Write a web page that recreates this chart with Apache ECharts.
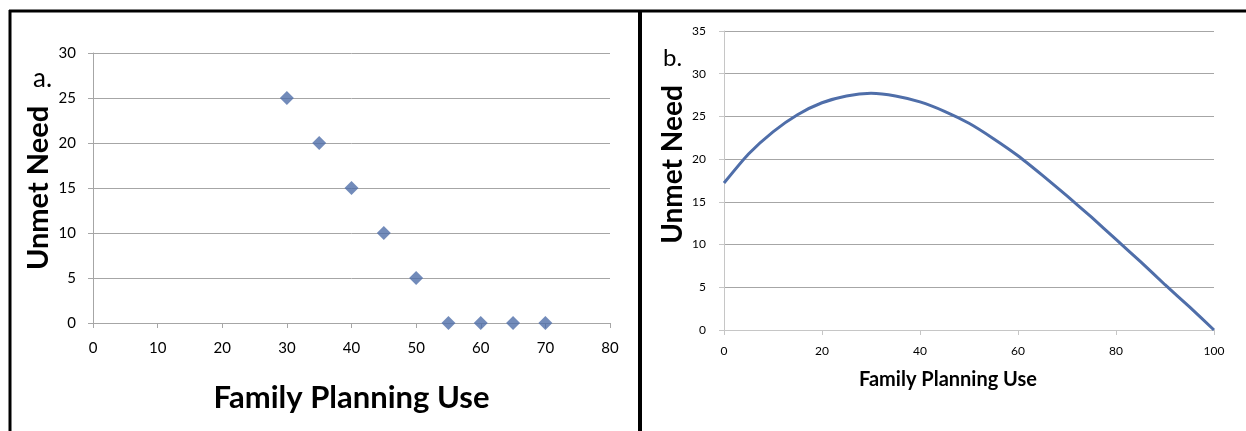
<!DOCTYPE html>
<html>
<head>
<meta charset="utf-8">
<script src="https://cdn.jsdelivr.net/npm/echarts@6/dist/echarts.min.js"></script>
<style>
  html, body { margin: 0; padding: 0; background: #fff; }
  #chart { width: 1246px; height: 431px; }
</style>
</head>
<body>
<div id="chart"></div>
<script>
// panel a: scatter points
const fpUseA = [30, 35, 40, 45, 50, 55, 60, 65, 70]
const unmetA = [25, 20, 15, 10, 5, 0, 0, 0, 0]
// panel b: curve
const fpUseB = [0, 5, 10, 15, 20, 25, 30, 35, 40, 45, 50, 55, 60, 65, 70, 75, 80, 85, 90, 95, 100]
const unmetB = [17.2, 20.6, 23.2, 25.2, 26.6, 27.4, 27.7, 27.4, 26.7, 25.6, 24.2, 22.4, 20.4, 18.1, 15.7, 13.2, 10.6, 8.0, 5.3, 2.7, 0]

const blue = '#4F6EA9'
const font = 'Lato'

const myChart = echarts.init(document.getElementById('chart'))

function axisStyle (color) {
  return {
    axisLine: { show: true, lineStyle: { color: color, width: 1 } },
    axisTick: { show: true, inside: false, length: 5, lineStyle: { color: color } },
    splitLine: { show: false }
  }
}

myChart.setOption({
  animation: false,
  textStyle: { fontFamily: font },
  grid: [
    { left: 93, top: 53, width: 517, height: 270 },
    { left: 724, top: 31, width: 490, height: 299 }
  ],
  xAxis: [
    Object.assign({
      gridIndex: 0,
      type: 'value',
      min: 0,
      max: 80,
      interval: 10,
      name: 'Family Planning Use',
      nameLocation: 'middle',
      nameGap: 59,
      nameTextStyle: { fontFamily: font, fontSize: 31, fontWeight: 'bold', color: '#000' },
      axisLabel: { fontFamily: font, fontSize: 15, color: '#000', margin: 18 }
    }, axisStyle('#A6A6A6')),
    Object.assign({
      gridIndex: 1,
      type: 'value',
      min: 0,
      max: 100,
      interval: 20,
      name: 'Family Planning Use',
      nameLocation: 'middle',
      nameGap: 40,
      nameTextStyle: { fontFamily: font, fontSize: 20, fontWeight: 'bold', color: '#000', padding: [0, 42, 0, 0] },
      axisLabel: { fontFamily: font, fontSize: 12, color: '#000', margin: 15 }
    }, axisStyle('#C6C6C6'))
  ],
  yAxis: [
    Object.assign({
      gridIndex: 0,
      type: 'value',
      min: 0,
      max: 30,
      interval: 5,
      name: 'Unmet Need',
      nameLocation: 'middle',
      nameGap: 40,
      nameTextStyle: { fontFamily: font, fontSize: 29, fontWeight: 'bold', color: '#000' },
      axisLabel: { fontFamily: font, fontSize: 15, color: '#000', margin: 17 }
    }, axisStyle('#A6A6A6'), {
      splitLine: { show: true, lineStyle: { color: '#A6A6A6', width: 1 } }
    }),
    Object.assign({
      gridIndex: 1,
      type: 'value',
      min: 0,
      max: 35,
      interval: 5,
      name: 'Unmet Need',
      nameLocation: 'middle',
      nameGap: 37,
      nameTextStyle: { fontFamily: font, fontSize: 28, fontWeight: 'bold', color: '#000', padding: [0, 0, 0, 32] },
      axisLabel: { fontFamily: font, fontSize: 12, color: '#000', margin: 18 }
    }, axisStyle('#C6C6C6'), {
      splitLine: { show: true, lineStyle: { color: '#A6A6A6', width: 1 } }
    })
  ],
  series: [
    {
      type: 'scatter',
      xAxisIndex: 0,
      yAxisIndex: 0,
      symbol: 'diamond',
      symbolSize: 14,
      itemStyle: { color: blue },
      data: fpUseA.map((x, i) => [x, unmetA[i]])
    },
    {
      type: 'line',
      xAxisIndex: 1,
      yAxisIndex: 1,
      showSymbol: false,
      smooth: 0.2,
      lineStyle: { color: blue, width: 3 },
      data: fpUseB.map((x, i) => [x, unmetB[i]])
    }
  ],
  graphic: [
    // frame lines
    { type: 'line', shape: { x1: 9, y1: 11, x2: 1246, y2: 11 }, style: { stroke: '#000', lineWidth: 3 } },
    { type: 'line', shape: { x1: 10, y1: 10, x2: 10, y2: 431 }, style: { stroke: '#000', lineWidth: 3 } },
    { type: 'line', shape: { x1: 640, y1: 10, x2: 640, y2: 431 }, style: { stroke: '#000', lineWidth: 4 } },
    // panel letters
    { type: 'text', left: 33, top: 66, style: { text: 'a.', font: '26px Lato', fill: '#000' } },
    { type: 'text', left: 663, top: 46, style: { text: 'b.', font: '24px Lato', fill: '#000' } }
  ]
})
</script>
</body>
</html>
